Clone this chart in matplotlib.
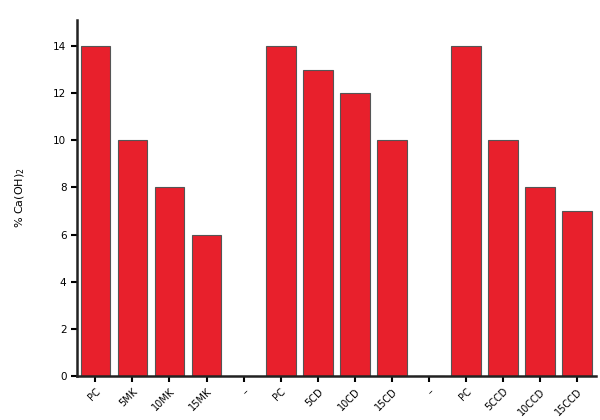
import numpy as np
import matplotlib.pyplot as plt

# Dane
labels = ['PC', '5MK', '10MK', '15MK', '–',
          'PC', '5CD', '10CD', '15CD', '–',
          'PC', '5CCD', '10CCD', '15CCD']
values = [14, 10, 8, 6, 0,
          14, 13, 12, 10, 0,
          14, 10, 8, 7]
y_ticks = [0, 2, 4, 6, 8, 10, 12, 14]

x = np.arange(len(labels))

fig = plt.figure(figsize=(6, 4.2), dpi=100)
ax = fig.add_axes([0.128, 0.105, 0.865, 0.847])

ax.bar(x, values, width=0.8, color='#E8202C', edgecolor='#555555', linewidth=0.8)

ax.set_xlim(-0.5, len(labels) - 0.5)
ax.set_ylim(0, 15.1)
ax.set_xticks(x)
ax.set_xticklabels(labels, rotation=45, ha='right', rotation_mode='anchor', fontsize=7)
ax.set_yticks(y_ticks)
ax.tick_params(axis='y', labelsize=7.5, direction='out', length=4, width=1.5)
ax.tick_params(axis='x', direction='out', length=4, width=1.5)

for s in ['top', 'right']:
    ax.spines[s].set_visible(False)
for s in ['left', 'bottom']:
    ax.spines[s].set_linewidth(1.8)
    ax.spines[s].set_color('#222222')

ax.set_ylabel('% Ca(OH)$_2$', fontsize=8)
ax.yaxis.set_label_coords(-0.095, 0.5)

fig.savefig('out.png', dpi=100)
